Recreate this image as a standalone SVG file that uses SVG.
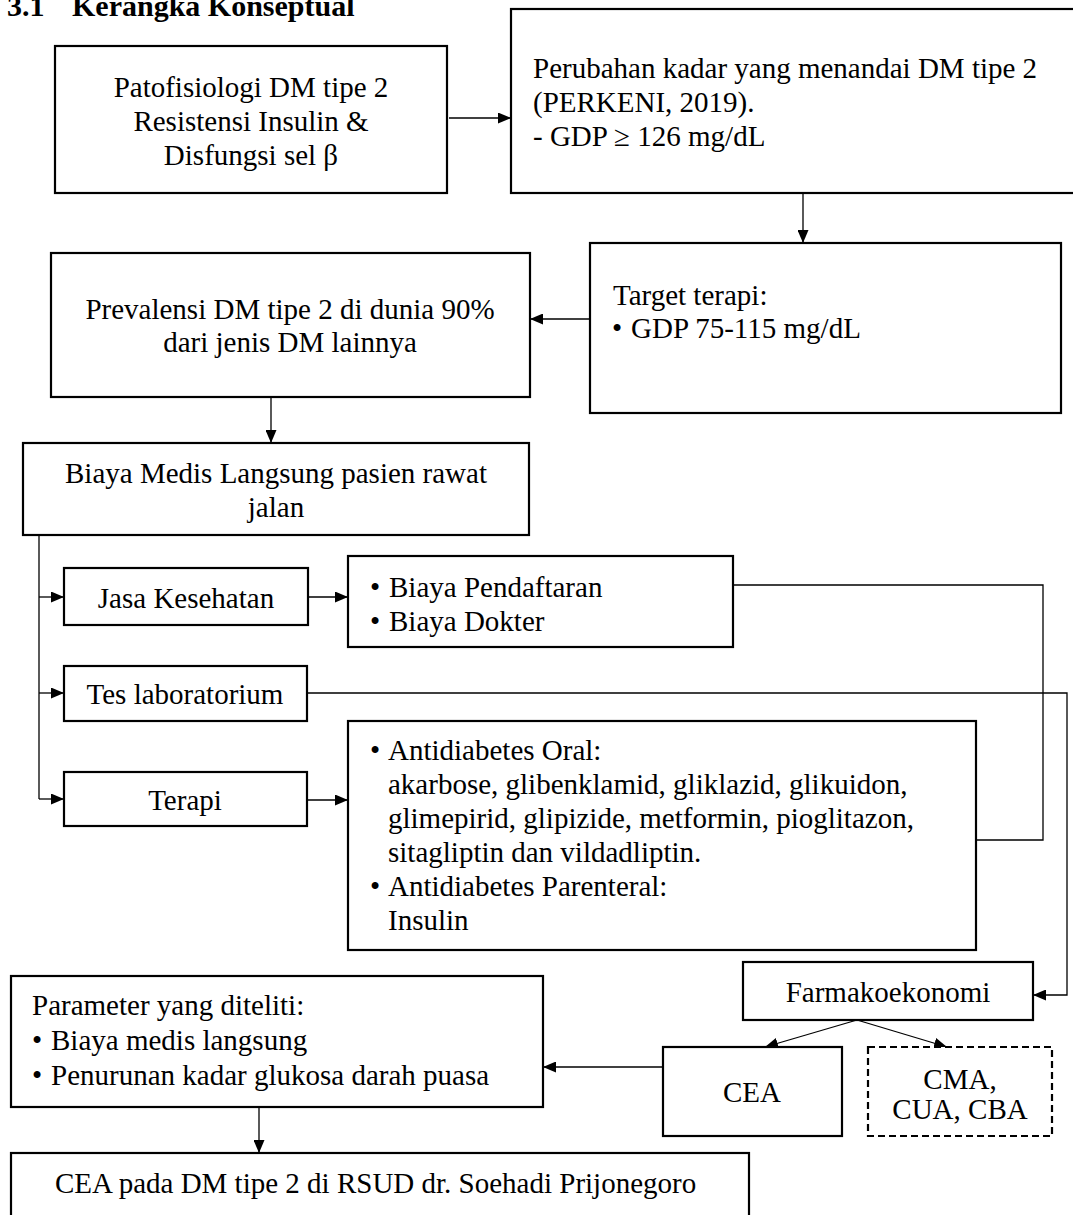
<svg xmlns="http://www.w3.org/2000/svg" width="1073" height="1215" viewBox="0 0 1073 1215">
<style>
  text { font-family: "Liberation Serif", "Times New Roman", serif; font-size: 29px; fill: #000; }
  .c { text-anchor: middle; }
  .title { font-weight: bold; font-size: 30px; }
  .box { fill: #fff; stroke: #000; stroke-width: 2.2; }
  .dash { fill: #fff; stroke: #000; stroke-width: 2.2; stroke-dasharray: 7 4; }
  .ln { fill: none; stroke: #000; stroke-width: 1.3; }
  .arr { fill: none; stroke: #000; stroke-width: 1.3; marker-end: url(#ah); }
</style>
<defs>
  <marker id="ah" markerWidth="13" markerHeight="11" refX="13" refY="5.5" orient="auto" markerUnits="userSpaceOnUse">
    <path d="M0,0 L13,5.5 L0,11 z" fill="#000"/>
  </marker>
</defs>
<rect width="1073" height="1215" fill="#fff"/>

<g id="title">
  <text class="title" x="7" y="16">3.1</text>
  <text class="title" x="72" y="16">Kerangka Konseptual</text>
</g>

<g id="connectors">
  <line class="arr" x1="449" y1="118" x2="511" y2="118"/>
  <line class="arr" x1="803" y1="193" x2="803" y2="243"/>
  <line class="arr" x1="590" y1="319" x2="530" y2="319"/>
  <line class="arr" x1="271" y1="397" x2="271" y2="443"/>
  <polyline class="ln" points="39,535 39,799"/>
  <line class="arr" x1="39" y1="597" x2="64" y2="597"/>
  <line class="arr" x1="39" y1="693" x2="64" y2="693"/>
  <line class="arr" x1="39" y1="799" x2="64" y2="799"/>
  <line class="arr" x1="308" y1="597" x2="348" y2="597"/>
  <line class="arr" x1="307" y1="800" x2="348" y2="800"/>
  <polyline class="ln" points="733,585 1043,585 1043,840 976,840"/>
  <polyline class="arr" points="307,693 1067,693 1067,995 1033,995"/>
  <line class="arr" x1="857" y1="1020" x2="765" y2="1047"/>
  <line class="arr" x1="857" y1="1020" x2="947" y2="1047"/>
  <line class="arr" x1="663" y1="1067" x2="543" y2="1067"/>
  <line class="arr" x1="259" y1="1107" x2="259" y2="1153"/>
</g>

<g id="patofisiologi">
  <rect class="box" x="55" y="46" width="392" height="147"/>
  <text class="c" x="251" y="97">Patofisiologi DM tipe 2</text>
  <text class="c" x="251" y="131">Resistensi Insulin &amp;</text>
  <text class="c" x="251" y="165">Disfungsi sel β</text>
</g>

<g id="perubahan">
  <rect class="box" x="511" y="9" width="570" height="184"/>
  <text x="533" y="78">Perubahan kadar yang menandai DM tipe 2</text>
  <text x="533" y="112">(PERKENI, 2019).</text>
  <text x="533" y="146">- GDP ≥ 126 mg/dL</text>
</g>

<g id="target">
  <rect class="box" x="590" y="243" width="471" height="170"/>
  <text x="613" y="305">Target terapi:</text>
  <text y="338"><tspan x="612">•</tspan><tspan x="631">GDP 75-115 mg/dL</tspan></text>
</g>

<g id="prevalensi">
  <rect class="box" x="51" y="253" width="479" height="144"/>
  <text class="c" x="290" y="319">Prevalensi DM tipe 2 di dunia 90%</text>
  <text class="c" x="290" y="352">dari jenis DM lainnya</text>
</g>

<g id="biaya-medis">
  <rect class="box" x="23" y="443" width="506" height="92"/>
  <text class="c" x="276" y="483">Biaya Medis Langsung pasien rawat</text>
  <text class="c" x="276" y="517">jalan</text>
</g>

<g id="jasa">
  <rect class="box" x="64" y="568" width="244" height="57"/>
  <text class="c" x="186" y="608">Jasa Kesehatan</text>
</g>

<g id="biaya-pendaftaran">
  <rect class="box" x="348" y="556" width="385" height="91"/>
  <text y="597"><tspan x="370">•</tspan><tspan x="389">Biaya Pendaftaran</tspan></text>
  <text y="631"><tspan x="370">•</tspan><tspan x="389">Biaya Dokter</tspan></text>
</g>

<g id="tes-lab">
  <rect class="box" x="64" y="666" width="243" height="55"/>
  <text class="c" x="185" y="704">Tes laboratorium</text>
</g>

<g id="terapi">
  <rect class="box" x="64" y="772" width="243" height="54"/>
  <text class="c" x="185" y="810">Terapi</text>
</g>

<g id="antidiabetes">
  <rect class="box" x="348" y="721" width="628" height="229"/>
  <text y="760"><tspan x="370">•</tspan><tspan x="388">Antidiabetes Oral:</tspan></text>
  <text x="388" y="794">akarbose, glibenklamid, gliklazid, glikuidon,</text>
  <text x="388" y="828">glimepirid, glipizide, metformin, pioglitazon,</text>
  <text x="388" y="862">sitagliptin dan vildadliptin.</text>
  <text y="896"><tspan x="370">•</tspan><tspan x="388">Antidiabetes Parenteral:</tspan></text>
  <text x="388" y="930">Insulin</text>
</g>

<g id="farmakoekonomi">
  <rect class="box" x="743" y="962" width="290" height="58"/>
  <text class="c" x="888" y="1002">Farmakoekonomi</text>
</g>

<g id="cea">
  <rect class="box" x="663" y="1047" width="179" height="89"/>
  <text class="c" x="752" y="1102">CEA</text>
</g>

<g id="cma">
  <rect class="dash" x="868" y="1047" width="184" height="89"/>
  <text class="c" x="960" y="1089">CMA,</text>
  <text class="c" x="960" y="1119">CUA, CBA</text>
</g>

<g id="parameter">
  <rect class="box" x="11" y="976" width="532" height="131"/>
  <text x="32" y="1015">Parameter yang diteliti:</text>
  <text y="1050"><tspan x="32">•</tspan><tspan x="51">Biaya medis langsung</tspan></text>
  <text y="1085"><tspan x="32">•</tspan><tspan x="51">Penurunan kadar glukosa darah puasa</tspan></text>
</g>

<g id="cea-rsud">
  <rect class="box" x="11" y="1153" width="738" height="80"/>
  <text x="55" y="1193">CEA pada DM tipe 2 di RSUD dr. Soehadi Prijonegoro</text>
</g>
</svg>
